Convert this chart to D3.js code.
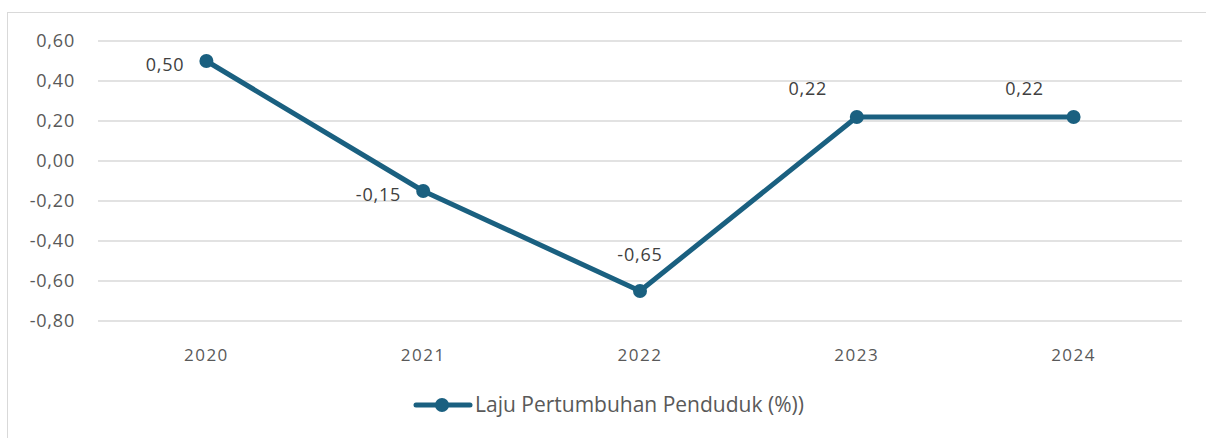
<!DOCTYPE html>
<html><head><meta charset="utf-8">
<script src="https://cdn.jsdelivr.net/npm/d3@7"></script>
<style>body{margin:0;background:#fff}svg{display:block}text{font-family:"Open Sans",Lato,sans-serif}</style>
</head><body>
<svg id="c" width="1206" height="438"></svg>
<script>
const categories = ["2020","2021","2022","2023","2024"];
const values = [0.50,-0.15,-0.65,0.22,0.22];
const yTicks = [0.6,0.4,0.2,0,-0.2,-0.4,-0.6,-0.8];
const seriesName = "Laju Pertumbuhan Penduduk (%))";
// label placement
const labelPos = ["left","left","above","aboveLeft","aboveLeft"];

const color = "#1a6080", grey = "#595959";
const svg = d3.select("#c");
svg.append("rect").attr("x",7.5).attr("y",12.5).attr("width",1230).attr("height",460)
  .attr("fill","none").attr("stroke","#d9d9d9");

const x = d3.scaleBand().domain(categories).range([98,1182]);
const y = d3.scaleLinear().domain([-0.8,0.6]).range([321,41]);
const fmt = v => d3.format(".2f")(v).replace(".",",").replace("−","-");

svg.append("g").selectAll("line").data(yTicks).join("line")
  .attr("x1",98).attr("x2",1182).attr("y1",d=>y(d)).attr("y2",d=>y(d))
  .attr("stroke","#d9d9d9").attr("stroke-width",1.5);

svg.append("g").selectAll("text").data(yTicks).join("text")
  .attr("x",75).attr("y",d=>y(d)).attr("dy","0.35em").attr("text-anchor","end")
  .attr("fill",grey).attr("font-size",18).attr("letter-spacing",0.8).text(fmt);

svg.append("g").selectAll("text").data(categories).join("text")
  .attr("x",d=>x(d)+x.bandwidth()/2).attr("y",355).attr("dy","0.35em").attr("text-anchor","middle")
  .attr("fill",grey).attr("font-size",17).attr("letter-spacing",1.5).text(d=>d);

const pts = categories.map((c,i)=>({c,v:values[i],p:labelPos[i]}));
const cx = d=>x(d.c)+x.bandwidth()/2;
svg.append("path").datum(pts)
  .attr("d",d3.line().x(cx).y(d=>y(d.v)))
  .attr("fill","none").attr("stroke",color).attr("stroke-width",5).attr("stroke-linejoin","round");
svg.append("g").selectAll("circle").data(pts).join("circle")
  .attr("cx",cx).attr("cy",d=>y(d.v)).attr("r",7).attr("fill",color);

svg.append("g").selectAll("text").data(pts).join("text")
  .attr("x",d=> d.p==="left"? cx(d)-22 : d.p==="above"? cx(d) : cx(d)-49)
  .attr("y",d=> d.p==="left"? y(d.v)+4 : d.p==="above"? y(d.v)-36 : y(d.v)-28)
  .attr("dy","0.35em")
  .attr("text-anchor",d=> d.p==="left"?"end":"middle")
  .attr("fill","#404040").attr("font-size",18).attr("letter-spacing",0.8).text(d=>fmt(d.v));

const lg = svg.append("g");
lg.append("line").attr("x1",416).attr("x2",470).attr("y1",405).attr("y2",405)
  .attr("stroke",color).attr("stroke-width",5).attr("stroke-linecap","round");
lg.append("circle").attr("cx",442).attr("cy",405).attr("r",7).attr("fill",color);
lg.append("text").attr("x",475).attr("y",405).attr("dy","0.35em").attr("fill",grey)
  .attr("font-size",21).text(seriesName);
</script>
</body></html>
